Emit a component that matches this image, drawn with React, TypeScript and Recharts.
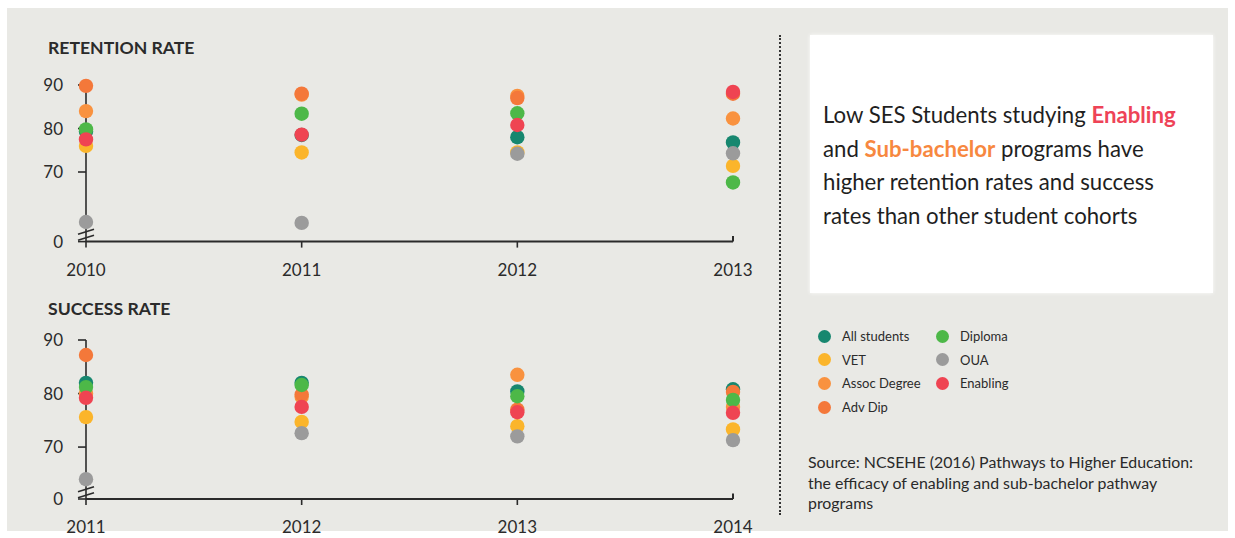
import React from "react";
import {
  ScatterChart,
  Scatter,
  XAxis,
  YAxis,
  ReferenceDot,
  ReferenceLine,
} from "recharts";

// cohorts, drawn in this order (later ones sit on top)
const cohorts = ["All students", "VET", "Assoc Degree", "Adv Dip", "Diploma", "OUA", "Enabling"];
const cohortColors = ["#17876f", "#fbb52b", "#f9923f", "#f4783a", "#4db848", "#9b9b9b", "#ef4452"];

// retention rate (%), 2010–2013. OUA sits below the axis break.
const retentionYears = [2010, 2011, 2012, 2013];
const retentionAll = [79.3, 78.5, 78, 76.8];
const retentionVet = [76, 74.5, 74.5, 71.4];
const retentionAssoc = [84, 87.8, 87.5, 82.3];
const retentionAdvDip = [89.8, 88, 87, 88];
const retentionDiploma = [79.8, 83.4, 83.5, 67.6];
const retentionOua = [58.5, 58.3, 74.2, 74.3];
const retentionEnabling = [77.5, 78.6, 80.8, 88.4];
const retentionTicks = [54, 70, 80, 90];

// success rate (%), 2011–2014
const successYears = [2011, 2012, 2013, 2014];
const successAll = [82, 82, 80.4, 80.8];
const successVet = [75.6, 74.7, 73.9, 73.3];
const successAssoc = [80, 79.4, 83.5, 77.5];
const successAdvDip = [87.2, 79.8, 77, 80.3];
const successDiploma = [81.2, 81.6, 79.5, 78.8];
const successOua = [64, 72.6, 72, 71.3];
const successEnabling = [79.2, 77.5, 76.5, 76.4];
const successTicks = [60.3, 70, 80, 90];

const retentionSeries = [
  retentionAll, retentionVet, retentionAssoc, retentionAdvDip,
  retentionDiploma, retentionOua, retentionEnabling,
];
const successSeries = [
  successAll, successVet, successAssoc, successAdvDip,
  successDiploma, successOua, successEnabling,
];

const FONT = "Lato, 'Open Sans', sans-serif";
const INK = "#2b2b2b";
const X_TICK = 6;
const X_GAP = 16;

const Dot = (props: any) => {
  const { cx, cy, fill } = props;
  if (cx == null || cy == null) return null;
  return <circle cx={cx} cy={cy} r={7.2} fill={fill} />;
};

// the "≠" break marker across the bottom of the value axis
const BreakMark = (props: any) => {
  const { cx, cy } = props;
  if (cx == null || cy == null) return null;
  return (
    <g stroke={INK} strokeWidth={1.6}>
      <line x1={cx - 8} y1={cy - 1} x2={cx + 8} y2={cy - 6} />
      <line x1={cx - 8} y1={cy + 5} x2={cx + 8} y2={cy} />
    </g>
  );
};

// year label plus a small downward tick; the last year gets no tick
// (the axis turns up there instead)
const makeYearTick = (lastYear: number) => (props: any) => {
  const { x, y, payload } = props;
  const showTick = payload.value !== lastYear && payload.value !== undefined;
  return (
    <g>
      {showTick && (
        <line
          x1={x}
          x2={x}
          y1={y - X_TICK - X_GAP}
          y2={y - X_GAP}
          stroke={INK}
          strokeWidth={1.6}
        />
      )}
      <text
        x={x}
        y={y}
        dy="0.71em"
        textAnchor="middle"
        fill={INK}
        fontSize={17}
        fontFamily={FONT}
      >
        {payload.value}
      </text>
    </g>
  );
};

function RateChart({
  years,
  series,
  ticks,
  height,
  top,
  bottom,
}: {
  years: number[];
  series: number[][];
  ticks: number[];
  height: number;
  top: number;
  bottom: number;
}) {
  const yMin = ticks[0];
  const span = 90 - yMin;
  const lastYear = years[years.length - 1];
  return (
    <ScatterChart
      width={780}
      height={height}
      margin={{ top, right: 47, left: 46, bottom }}
    >
      <XAxis
        type="number"
        dataKey="year"
        domain={[years[0], lastYear]}
        ticks={years}
        allowDecimals={false}
        height={30}
        stroke={INK}
        strokeWidth={2}
        tickLine={false}
        tickSize={X_TICK}
        tickMargin={X_GAP}
        tick={makeYearTick(lastYear)}
      />
      <YAxis
        type="number"
        dataKey="value"
        domain={[yMin, 90]}
        ticks={ticks}
        width={40}
        stroke={INK}
        strokeWidth={1.6}
        tickSize={8}
        tickMargin={15}
        tick={{ fill: INK, fontSize: 17, fontFamily: FONT }}
        tickFormatter={(v: number) => (v === yMin ? "0" : String(v))}
      />
      <ReferenceLine
        segment={[
          { x: lastYear, y: yMin },
          { x: lastYear, y: yMin + span * 0.035 },
        ]}
        stroke={INK}
        strokeWidth={2}
      />
      {series.map((vals, i) => (
        <Scatter
          key={cohorts[i]}
          name={cohorts[i]}
          data={years.map((year, j) => ({ year, value: vals[j] }))}
          fill={cohortColors[i]}
          shape={<Dot />}
          isAnimationActive={false}
        />
      ))}
      <ReferenceDot
        x={years[0]}
        y={yMin + span * 0.04}
        shape={<BreakMark />}
      />
    </ScatterChart>
  );
}

const legendOrder = [
  [0, 4],
  [1, 5],
  [2, 6],
  [3, -1],
];

export default function App() {
  return (
    <div
      style={{
        position: "absolute",
        left: 0,
        top: 0,
        width: 1235,
        height: 538,
        background: "#ffffff",
        overflow: "hidden",
        fontFamily: FONT,
        color: INK,
      }}
    >
      <div
        style={{
          position: "absolute",
          left: 7,
          top: 8,
          width: 1221,
          height: 523,
          background: "#e9e9e5",
        }}
      />

      <div style={{ position: "absolute", left: 48, top: 37, fontSize: 17.6, fontWeight: 700 }}>
        RETENTION RATE
      </div>
      <div style={{ position: "absolute", left: 0, top: 0 }}>
        <RateChart
          years={retentionYears}
          series={retentionSeries}
          ticks={retentionTicks}
          height={290}
          top={85}
          bottom={18.4}
        />
      </div>

      <div style={{ position: "absolute", left: 48, top: 298, fontSize: 17.6, fontWeight: 700 }}>
        SUCCESS RATE
      </div>
      <div style={{ position: "absolute", left: 0, top: 250 }}>
        <RateChart
          years={successYears}
          series={successSeries}
          ticks={successTicks}
          height={288}
          top={90}
          bottom={9}
        />
      </div>

      <div
        style={{
          position: "absolute",
          left: 779,
          top: 35,
          height: 480,
          borderLeft: "2px dotted #333",
        }}
      />

      <div
        style={{
          position: "absolute",
          left: 810,
          top: 35,
          width: 403,
          height: 258,
          background: "#ffffff",
          boxShadow: "0 0 4px rgba(255,255,255,0.9)",
        }}
      >
        <div
          style={{
            position: "absolute",
            left: 13,
            top: 63,
            fontSize: 22.2,
            lineHeight: "33.5px",
            color: "#1f1f1f",
            whiteSpace: "nowrap",
          }}
        >
          Low SES Students studying{" "}
          <span style={{ color: "#ee4357", fontWeight: 700 }}>Enabling</span>
          <br />
          and <span style={{ color: "#f7883f", fontWeight: 700 }}>Sub-bachelor</span> programs have
          <br />
          higher retention rates and success
          <br />
          rates than other student cohorts
        </div>
      </div>

      {legendOrder.map((row, r) =>
        row.map((ci, c) =>
          ci < 0 ? null : (
            <div
              key={cohorts[ci]}
              style={{
                position: "absolute",
                left: c === 0 ? 818 : 936,
                top: 328 + r * 23.7,
                display: "flex",
                alignItems: "center",
                fontSize: 13,
                whiteSpace: "nowrap",
              }}
            >
              <span
                style={{
                  display: "inline-block",
                  width: 13,
                  height: 13,
                  borderRadius: "50%",
                  background: cohortColors[ci],
                  marginRight: 11,
                }}
              />
              {cohorts[ci]}
            </div>
          )
        )
      )}

      <div
        style={{
          position: "absolute",
          left: 808,
          top: 452,
          fontSize: 15.9,
          lineHeight: "20.5px",
          color: "#2a2a2a",
          whiteSpace: "nowrap",
        }}
      >
        Source: NCSEHE (2016) Pathways to Higher Education:
        <br />
        the efficacy of enabling and sub-bachelor pathway
        <br />
        programs
      </div>
    </div>
  );
}
